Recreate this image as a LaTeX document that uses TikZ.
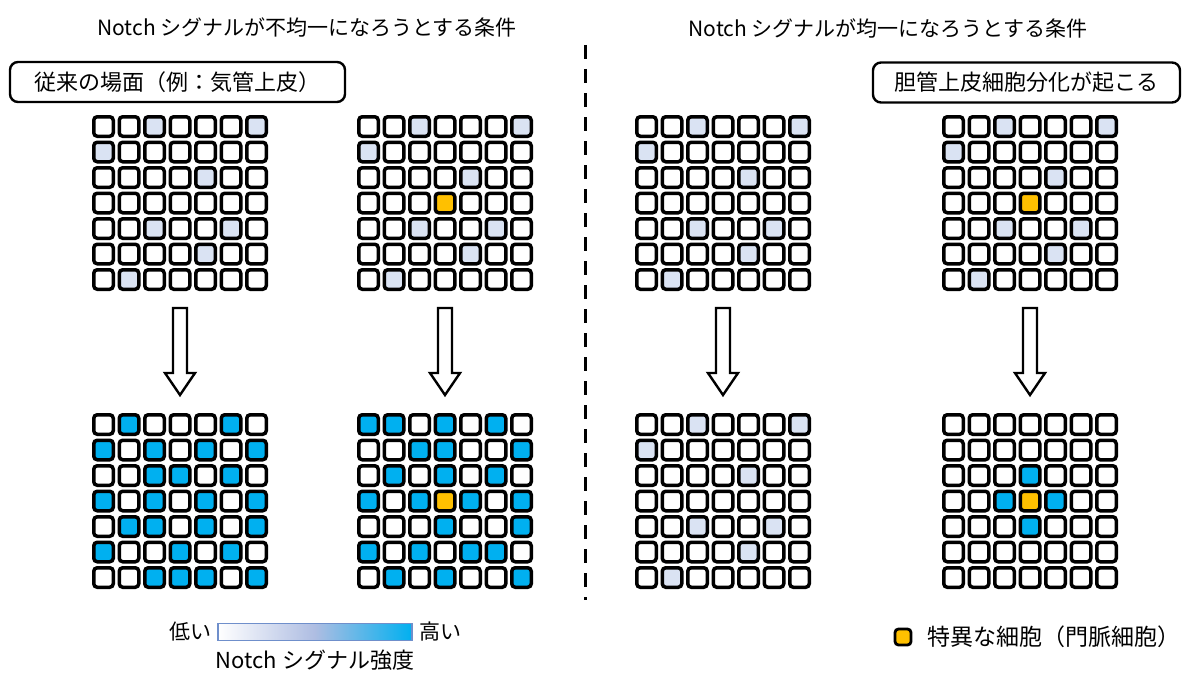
\documentclass[tikz,border=0pt]{standalone}
\usepackage{fontspec}
\setmainfont{Noto Sans CJK JP}
\usetikzlibrary{calc,positioning}

\definecolor{cw}{HTML}{FFFFFF}
\definecolor{cl}{HTML}{DAE3F3}
\definecolor{cd}{HTML}{00B0F0}
\definecolor{co}{HTML}{FFC000}
\definecolor{barline}{HTML}{6F8FCB}
\definecolor{barmid}{HTML}{AEBDE2}

\tikzset{
  cell/.style={draw, line width=3.5pt, rounded corners=3.5pt, minimum size=19.5pt, inner sep=0pt},
  tag/.style={draw, line width=2.4pt, rounded corners=8pt, minimum height=40pt, inner sep=0pt, font=\fontsize{22}{26}\selectfont},
  heading/.style={font=\fontsize{21}{25}\selectfont},
  legendtext/.style={font=\fontsize{21}{25}\selectfont, inner sep=2pt},
  bigarrow/.style={draw, line width=2.4pt, fill=white, line join=miter},
  divider/.style={line width=3pt, dash pattern=on 14pt off 10pt},
}

% rows of a sheet, top to bottom
\newcommand{\sheetplain}{{cw,cw,cl,cw,cw,cw,cl},{cl,cw,cw,cw,cw,cw,cw},{cw,cw,cw,cw,cl,cw,cw},{cw,cw,cw,cw,cw,cw,cw},{cw,cw,cl,cw,cw,cl,cw},{cw,cw,cw,cw,cl,cw,cw},{cw,cl,cw,cw,cw,cw,cw}}
\newcommand{\sheetportal}{{cw,cw,cl,cw,cw,cw,cl},{cl,cw,cw,cw,cw,cw,cw},{cw,cw,cw,cw,cl,cw,cw},{cw,cw,cw,co,cw,cw,cw},{cw,cw,cl,cw,cw,cl,cw},{cw,cw,cw,cw,cl,cw,cw},{cw,cl,cw,cw,cw,cw,cw}}
\newcommand{\sheetsalt}{{cw,cd,cw,cw,cw,cd,cw},{cd,cw,cd,cw,cd,cw,cd},{cw,cw,cd,cd,cw,cd,cw},{cd,cw,cd,cw,cd,cw,cd},{cw,cd,cd,cw,cd,cw,cd},{cd,cw,cw,cd,cw,cd,cw},{cw,cw,cd,cd,cd,cw,cd}}
\newcommand{\sheetsaltportal}{{cd,cd,cw,cd,cw,cd,cw},{cw,cw,cd,cd,cw,cw,cd},{cw,cd,cw,cd,cw,cd,cw},{cd,cw,cd,co,cd,cw,cd},{cw,cw,cw,cd,cw,cw,cd},{cd,cw,cd,cw,cd,cd,cw},{cw,cd,cw,cd,cw,cw,cd}}
\newcommand{\sheetbile}{{cw,cw,cw,cw,cw,cw,cw},{cw,cw,cw,cw,cw,cw,cw},{cw,cw,cw,cd,cw,cw,cw},{cw,cw,cd,co,cd,cw,cw},{cw,cw,cw,cd,cw,cw,cw},{cw,cw,cw,cw,cw,cw,cw},{cw,cw,cw,cw,cw,cw,cw}}

% #1 name, #2 #3 first cell, #4 rows
\newcommand{\cellgrid}[4]{%
  \foreach \row [count=\r] in #4{%
    \foreach \f [count=\c] in \row{%
      \node[cell, fill=\f] (#1-\r-\c) at ({#2+(\c-1)*25.5},{#3+(\r-1)*25.5}) {};
    }
  }
}

\begin{document}
\begin{tikzpicture}[x=1pt, y=-1pt]
  \useasboundingbox (0,0) rectangle (1188,677);

  \node[heading] (lefthead) at (307,27) {Notch シグナルが不均一になろうとする条件};
  \node[heading] (righthead) at (888,28) {Notch シグナルが均一になろうとする条件};

  \node[tag, minimum width=335pt] (oldcase) at (177.5,82) {従来の場面（例：気管上皮）};
  \node[tag, minimum width=307pt] (bileduct) at (1026.5,82.5) {胆管上皮細胞分化が起こる};

  \coordinate (divtop) at (585,45);
  \coordinate (divbot) at (585,600);
  \draw[divider] (divtop) -- (divbot);

  \cellgrid{t1}{103.5}{126.5}{\sheetplain}
  \cellgrid{t2}{368.5}{126.5}{\sheetportal}
  \cellgrid{t3}{646.5}{126.5}{\sheetplain}
  \cellgrid{t4}{953.5}{126.5}{\sheetportal}

  \cellgrid{b1}{103.5}{424.5}{\sheetsalt}
  \cellgrid{b2}{368.5}{424.5}{\sheetsaltportal}
  \cellgrid{b3}{646.5}{424.5}{\sheetplain}
  \cellgrid{b4}{953.5}{424.5}{\sheetbile}

  \foreach \g in {1,2,3,4}{
    \draw[bigarrow] ($(t\g-7-4.south)+(-7,17)$) -- ($(b\g-1-4.north)+(-7,-40)$) -- ++(-8,0)
      -- ($(b\g-1-4.north)+(0,-18)$) -- ($(b\g-1-4.north)+(15,-40)$) -- ++(-8,0)
      -- ($(t\g-7-4.south)+(7,17)$) -- cycle;
  }

  % intensity scale
  \node[draw=barline, line width=1.2pt, minimum width=194pt, minimum height=17pt, inner sep=0pt,
        left color=white, right color=cd, middle color=barmid] (scalebar) at (315,632) {};
  \node[legendtext, left=4pt of scalebar] (low) {低い};
  \node[legendtext, right=5pt of scalebar] (high) {高い};
  \node[legendtext, font=\fontsize{22}{26}\selectfont, below=7pt of scalebar] (strength) {Notch シグナル強度};

  \node[cell, fill=co, minimum size=16pt, line width=2.8pt] (spkey) at (903,637) {};
  \node[legendtext, font=\fontsize{23}{27}\selectfont, right=13pt of spkey] (spcell) {特異な細胞（門脈細胞）};
\end{tikzpicture}
\end{document}
